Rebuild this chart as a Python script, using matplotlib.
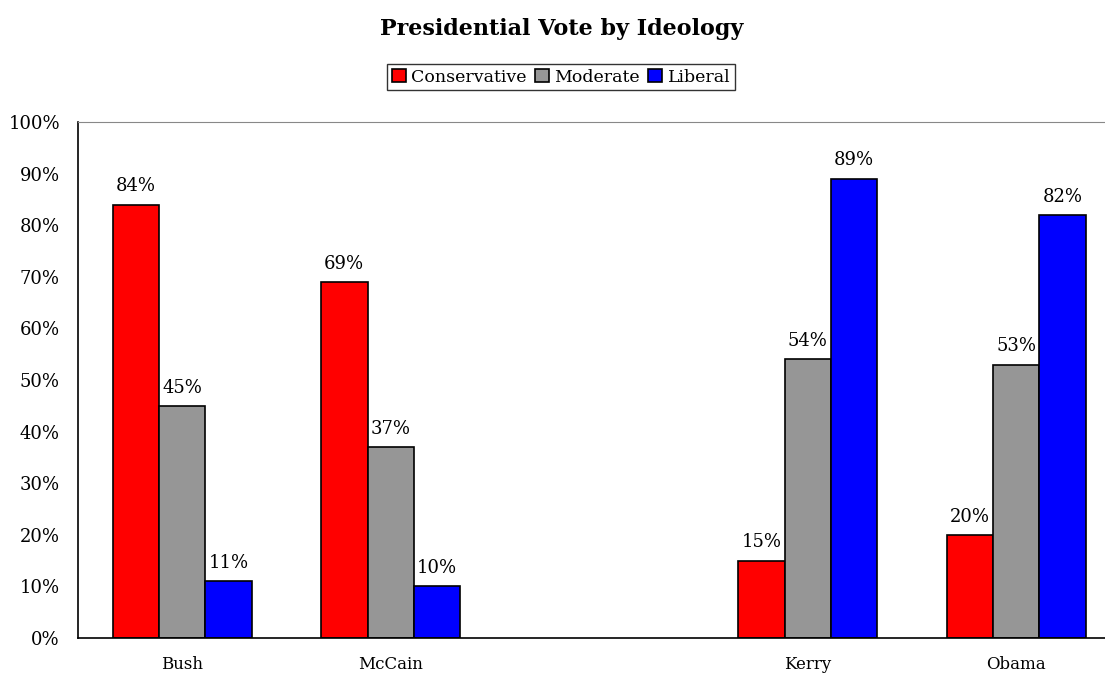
import numpy as np
from matplotlib import pyplot as plt

candidates = ['Bush', 'McCain', 'Kerry', 'Obama']
conservative = [84, 69, 15, 20]
moderate = [45, 37, 54, 53]
liberal = [11, 10, 89, 82]
series = ['Conservative', 'Moderate', 'Liberal']
colors = ['#ff0000', '#969696', '#0000ff']

plt.rcParams['font.family'] = ['DejaVu Serif']

fig = plt.figure(figsize=(11.05, 6.77), dpi=100)
ax = fig.add_axes([78 / 1105, 1 - 638 / 677, 1042.5 / 1105, 516 / 677])

# empty slot between the 2004/2008 Republicans and Democrats
x = np.array([0, 1, 3, 4])
width = 0.223
for i, (name, vals, col) in enumerate(zip(series, [conservative, moderate, liberal], colors)):
    pos = x + (i - 1) * width
    bars = ax.bar(pos, vals, width, color=col, edgecolor='black', linewidth=1.2, label=name)
    for b, v in zip(bars, vals):
        ax.text(b.get_x() + b.get_width() / 2, v + 1.8, f'{v}%', ha='center', va='bottom', fontsize=13)

ax.set_xlim(-0.5, 4.5)
ax.set_ylim(0, 100)
ax.set_yticks(range(0, 101, 10))
ax.set_yticklabels([f'{t}%' for t in range(0, 101, 10)], fontsize=13)
ax.set_xticks(x)
ax.set_xticklabels(candidates, fontsize=12)
ax.tick_params(axis='y', length=0, pad=13)
ax.tick_params(axis='x', length=0, pad=13)
ax.spines['top'].set_color('#888888')
ax.spines['right'].set_visible(False)
ax.spines['left'].set_linewidth(1.2)
ax.spines['bottom'].set_linewidth(1.2)

fig.suptitle('Presidential Vote by Ideology', fontsize=16, fontweight='bold', x=0.508, y=0.973)
fig.legend(loc='center', bbox_to_anchor=(561 / 1105, 1 - 77 / 677), ncol=3, fontsize=12.5,
           frameon=True, fancybox=False, edgecolor='black', handlelength=0.8, handleheight=0.8,
           handletextpad=0.3, columnspacing=0.5, borderpad=0.25, borderaxespad=0)

fig.savefig('out.png', dpi=100)
